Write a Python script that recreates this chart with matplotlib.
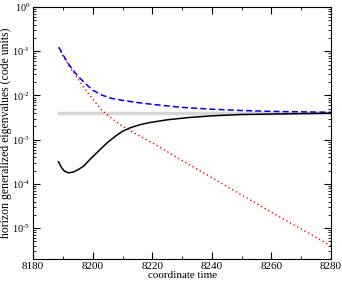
import numpy as np
import matplotlib
matplotlib.use('Agg')
import matplotlib.pyplot as plt
import matplotlib.ticker as mticker

plt.rcParams['font.family'] = ['Liberation Serif', 'DejaVu Serif']
plt.rcParams['mathtext.fontset'] = 'custom'
plt.rcParams['mathtext.rm'] = 'Liberation Serif'
plt.rcParams['mathtext.it'] = 'Liberation Serif:italic'

# values (log10 of eigenvalue)
t_blue = [8188.6, 8190, 8192, 8194, 8196, 8198, 8200, 8203, 8206, 8210,
          8215, 8220, 8230, 8240, 8250, 8260, 8270, 8280]
log_blue = [-0.91, -1.08, -1.30, -1.48, -1.63, -1.76, -1.88, -1.99, -2.06, -2.11,
            -2.16, -2.20, -2.27, -2.31, -2.34, -2.36, -2.37, -2.38]

t_red = [8188.6, 8190, 8192, 8194, 8196, 8198, 8200, 8203, 8206, 8210,
         8215, 8220, 8230, 8240, 8250, 8260, 8270, 8280]
log_red = [-0.91, -1.10, -1.33, -1.52, -1.72, -1.91, -2.08, -2.33, -2.50, -2.70,
           -2.89, -3.07, -3.47, -3.86, -4.25, -4.64, -5.02, -5.40]

t_black = [8188.5, 8189.5, 8190.5, 8191.9, 8193.5, 8195, 8196.9, 8199, 8202.5, 8205,
           8208, 8210, 8212.6, 8215.9, 8219.3, 8225, 8232, 8240, 8250, 8260, 8270, 8280]
log_black = [-3.50, -3.63, -3.71, -3.75, -3.73, -3.68, -3.60, -3.45, -3.22, -3.06,
             -2.90, -2.81, -2.73, -2.66, -2.61, -2.55, -2.50, -2.46, -2.43, -2.42, -2.41, -2.40]

t_gray = [8188.6, 8280]
gray_level = [0.0041, 0.0041]


def log_label(v, _):
    n = int(round(np.log10(v)))
    if n < 0:
        return r'$\mathdefault{10^{\text{-%d}}}$' % (-n)
    return r'$\mathdefault{10^{%d}}$' % n


fig = plt.figure(figsize=(3.42, 2.81), dpi=100)
ax = fig.add_axes([0.097, 0.078, 0.871, 0.897])

ax.plot(t_gray, gray_level, color='#d6d6d6', lw=2.5, zorder=1)
ax.plot(t_red, 10 ** np.array(log_red), color='red', ls=(0, (1, 2)), lw=1.0, zorder=2)
ax.plot(t_blue, 10 ** np.array(log_blue), color='blue', ls=(0, (4, 2)), lw=1.1, zorder=3)
ax.plot(t_black, 10 ** np.array(log_black), color='black', lw=1.1, zorder=4)

ax.set_yscale('log')
ax.set_xlim(8180, 8280)
ax.set_ylim(2e-6, 1)
ax.xaxis.set_major_locator(mticker.MultipleLocator(20))
ax.xaxis.set_minor_locator(mticker.MultipleLocator(10))
ax.yaxis.set_major_locator(mticker.LogLocator(base=10, numticks=10))
ax.yaxis.set_major_formatter(mticker.FuncFormatter(log_label))
ax.yaxis.set_minor_locator(mticker.LogLocator(base=10, subs=np.arange(2, 10), numticks=10))
ax.yaxis.set_minor_formatter(mticker.NullFormatter())

ax.tick_params(which='both', direction='in', top=True, right=True, labelsize=8, pad=2)
ax.tick_params(axis='y', labelsize=7.5)
ax.tick_params(which='major', length=5, width=0.8)
ax.tick_params(which='minor', length=2.5, width=0.6)

ax.set_xlabel('coordinate time', fontsize=8, labelpad=0)
ax.set_ylabel('horizon generalized eigenvalues (code units)', fontsize=8.5)
ax.yaxis.set_label_coords(-0.072, 0.5)

fig.savefig('out.png', dpi=100)
